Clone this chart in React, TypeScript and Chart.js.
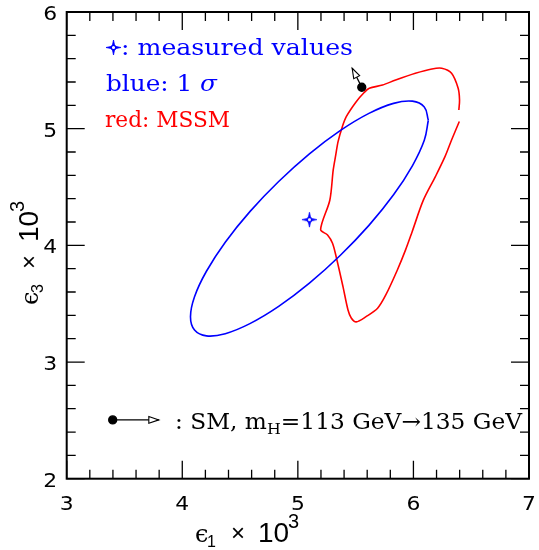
import React, { useEffect, useRef } from "react";
import { Chart, registerables } from "chart.js";

Chart.register(...registerables);

// ---- axes ----
const xTicks = [3, 4, 5, 6, 7];
const yTicks = [2, 3, 4, 5, 6];
const minorStep = 0.2;

// ---- blue 1 sigma ellipse ----
const ellipseX = [6.129, 6.094, 5.991, 5.828, 5.615, 5.366, 5.1, 4.834, 4.585, 4.372, 4.209, 4.106, 4.071, 4.106, 4.209, 4.372, 4.585, 4.834, 5.1, 5.366, 5.615, 5.828, 5.991, 6.094, 6.129];
const ellipseY = [5.072, 4.9, 4.682, 4.433, 4.171, 3.913, 3.676, 3.477, 3.329, 3.243, 3.224, 3.274, 3.388, 3.56, 3.778, 4.027, 4.289, 4.547, 4.784, 4.983, 5.131, 5.217, 5.236, 5.186, 5.072];

// ---- red MSSM contour ----
const mssmX = [6.397, 6.33, 6.273, 6.19, 6.085, 5.989, 5.932, 5.861, 5.761, 5.69, 5.59, 5.505, 5.462, 5.434, 5.391, 5.334, 5.3, 5.257, 5.197, 5.277, 5.306, 5.328, 5.348, 5.385, 5.419, 5.505, 5.576, 5.618, 5.733, 5.846, 6.017, 6.16, 6.245, 6.33, 6.387, 6.399, 6.393];
const mssmY = [5.062, 4.903, 4.76, 4.589, 4.385, 4.117, 3.961, 3.789, 3.575, 3.461, 3.389, 3.344, 3.378, 3.446, 3.644, 3.892, 4.018, 4.089, 4.136, 4.389, 4.646, 4.775, 4.889, 5.017, 5.103, 5.231, 5.312, 5.346, 5.374, 5.417, 5.475, 5.512, 5.518, 5.475, 5.346, 5.246, 5.16];

// ---- measured value ----
const measuredX = [5.1];
const measuredY = [4.22];

// ---- SM arrow (m_H 113 -> 135 GeV) and legend arrow ----
const smArrowX = [5.553, 5.47];
const smArrowY = [5.355, 5.518];
const legendArrowX = [3.398, 3.797];
const legendArrowY = [2.504, 2.504];

// ---- texts ----
const legendLine1 = ": measured values";
const legendLine2 = "blue: 1 ";
const legendSigma = "σ";
const legendLine3 = "red: MSSM";
const smText1 = ": SM, m";
const smTextSub = "H";
const smText2 = "=113 GeV→135 GeV";
const xTitleParts = ["ϵ", "1", "×", "10", "3"];
const yTitleParts = ["ϵ", "3", "×", "10", "3"];

const BLUE = "#0000ff";
const RED = "#ff0000";
const SERIF = '"DejaVu Serif"';

const pts = (xs: number[], ys: number[]) => xs.map((x, i) => ({ x, y: ys[i] }));

type Part = { t: string; font: string; dy?: number };

function drawFit(ctx: CanvasRenderingContext2D, parts: Part[], x: number, y: number, target: number) {
  let w = 0;
  for (const p of parts) {
    ctx.font = p.font;
    w += ctx.measureText(p.t).width;
  }
  const sx = target / w;
  ctx.save();
  ctx.translate(x, y);
  ctx.scale(sx, 1);
  let cx = 0;
  for (const p of parts) {
    ctx.font = p.font;
    ctx.fillText(p.t, cx, p.dy || 0);
    cx += ctx.measureText(p.t).width;
  }
  ctx.restore();
}

function makeStar(): HTMLCanvasElement {
  const c = document.createElement("canvas");
  c.width = 19;
  c.height = 19;
  const g = c.getContext("2d")!;
  const m = 9.5, R = 7.5, r = 1.8;
  g.fillStyle = BLUE;
  g.strokeStyle = BLUE;
  g.lineWidth = 0.8;
  g.beginPath();
  for (let i = 0; i < 8; i++) {
    const a = (i * Math.PI) / 4 - Math.PI / 2;
    const rad = i % 2 === 0 ? R : r;
    const px = m + rad * Math.cos(a), py = m + rad * Math.sin(a);
    if (i === 0) g.moveTo(px, py);
    else g.lineTo(px, py);
  }
  g.closePath();
  g.fill();
  g.stroke();
  g.beginPath();
  g.arc(m, m, 2.2, 0, Math.PI * 2);
  g.fillStyle = "#fff";
  g.fill();
  g.lineWidth = 1.3;
  g.stroke();
  return c;
}

function drawTitle(ctx: CanvasRenderingContext2D, parts: string[]) {
  ctx.fillStyle = "#000";
  ctx.textAlign = "left";
  ctx.textBaseline = "alphabetic";
  ctx.font = '24px "DejaVu Serif"';
  ctx.fillText(parts[0], 0, 0);
  ctx.font = '16px "Liberation Sans"';
  ctx.fillText(parts[1], 12, 5);
  ctx.font = '24px "Liberation Sans"';
  ctx.fillText(parts[2], 36, -1);
  ctx.font = '28px "Liberation Sans"';
  ctx.fillText(parts[3], 63, 0);
  ctx.font = '20px "Liberation Sans"';
  ctx.fillText(parts[4], 93, -14);
}

export default function App() {
  const ref = useRef<HTMLCanvasElement | null>(null);

  useEffect(() => {
    if (!ref.current) return;
    const star = makeStar();

    const framePlugin = {
      id: "framePlugin",
      afterDraw(chart: any) {
        const { ctx, chartArea: ca } = chart;
        const xs = chart.scales.x, ys = chart.scales.y;
        ctx.save();
        const head = (ax: number[], ay: number[]) => {
          const x0 = xs.getPixelForValue(ax[0]), y0 = ys.getPixelForValue(ay[0]);
          const x1 = xs.getPixelForValue(ax[1]), y1 = ys.getPixelForValue(ay[1]);
          const L = Math.hypot(x1 - x0, y1 - y0);
          const ux = (x1 - x0) / L, uy = (y1 - y0) / L;
          const bl = 10, hw = 3.3;
          const bx = x1 - ux * bl, by = y1 - uy * bl;
          ctx.beginPath();
          ctx.moveTo(x1, y1);
          ctx.lineTo(bx - uy * hw, by + ux * hw);
          ctx.lineTo(bx + uy * hw, by - ux * hw);
          ctx.closePath();
          ctx.fillStyle = "#fff";
          ctx.fill();
          ctx.strokeStyle = "#000";
          ctx.lineWidth = 1.1;
          ctx.stroke();
        };
        head(smArrowX, smArrowY);
        head(legendArrowX, legendArrowY);

        // frame
        ctx.strokeStyle = "#000";
        ctx.lineWidth = 2;
        ctx.strokeRect(ca.left, ca.top, ca.right - ca.left, ca.bottom - ca.top);

        // ticks on all four sides, pointing inward
        ctx.lineWidth = 1.3;
        ctx.beginPath();
        const nx = Math.round((xs.max - xs.min) / minorStep);
        for (let i = 0; i <= nx; i++) {
          const v = xs.min + i * minorStep;
          const major = Math.abs(v - Math.round(v)) < 1e-6;
          const len = major ? 18 : 9;
          const px = xs.getPixelForValue(v);
          ctx.moveTo(px, ca.bottom);
          ctx.lineTo(px, ca.bottom - len);
          ctx.moveTo(px, ca.top);
          ctx.lineTo(px, ca.top + len);
        }
        const ny = Math.round((ys.max - ys.min) / minorStep);
        for (let i = 0; i <= ny; i++) {
          const v = ys.min + i * minorStep;
          const major = Math.abs(v - Math.round(v)) < 1e-6;
          const len = major ? 18 : 9;
          const py = ys.getPixelForValue(v);
          ctx.moveTo(ca.left, py);
          ctx.lineTo(ca.left + len, py);
          ctx.moveTo(ca.right, py);
          ctx.lineTo(ca.right - len, py);
        }
        ctx.stroke();

        // tick labels
        ctx.fillStyle = "#000";
        ctx.font = '19px "DejaVu Sans"';
        ctx.textBaseline = "alphabetic";
        ctx.textAlign = "center";
        const sx = 1.15;
        xTicks.forEach((v) => {
          ctx.save();
          ctx.translate(xs.getPixelForValue(v), ca.bottom + 31.5);
          ctx.scale(sx, 1);
          ctx.fillText(String(v), 0, 0);
          ctx.restore();
        });
        ctx.textAlign = "right";
        yTicks.forEach((v) => {
          ctx.save();
          ctx.translate(ca.left - 9.5, ys.getPixelForValue(v) + 8);
          ctx.scale(sx, 1);
          ctx.fillText(String(v), 0, 0);
          ctx.restore();
        });

        // axis titles
        ctx.save();
        ctx.translate(195, 541.5);
        drawTitle(ctx, xTitleParts);
        ctx.restore();
        ctx.save();
        ctx.translate(38, 305);
        ctx.rotate(-Math.PI / 2);
        drawTitle(ctx, yTitleParts);
        ctx.restore();

        // in-plot legend texts
        ctx.textAlign = "left";
        ctx.textBaseline = "alphabetic";
        ctx.drawImage(star, 113.5 - 9.5, 47.5 - 9.5);
        const f = "22px " + SERIF;
        ctx.fillStyle = BLUE;
        drawFit(ctx, [{ t: legendLine1, font: f }], 121, 55, 232);
        drawFit(ctx, [{ t: legendLine2, font: f }, { t: legendSigma, font: "italic " + f }], 106, 91, 111);
        ctx.fillStyle = RED;
        drawFit(ctx, [{ t: legendLine3, font: f }], 105, 127, 125);
        ctx.fillStyle = "#000";
        drawFit(
          ctx,
          [
            { t: smText1, font: f },
            { t: smTextSub, font: "15px " + SERIF, dy: 5 },
            { t: smText2, font: f },
          ],
          175,
          429,
          347
        );
        ctx.restore();
      },
    };

    const chart = new Chart(ref.current, {
      type: "scatter",
      data: {
        datasets: [
          {
            label: "1 sigma",
            data: pts(ellipseX, ellipseY),
            showLine: true,
            borderColor: BLUE,
            borderWidth: 1.6,
            pointRadius: 0,
            tension: 0.4,
            fill: false,
          },
          {
            label: "MSSM",
            data: pts(mssmX, mssmY),
            showLine: true,
            borderColor: RED,
            borderWidth: 1.6,
            pointRadius: 0,
            tension: 0.3,
            fill: false,
          },
          {
            label: "measured",
            data: pts(measuredX, measuredY),
            showLine: false,
            pointStyle: star as any,
            pointRadius: 9,
          },
          {
            label: "SM",
            data: pts(smArrowX, smArrowY),
            showLine: true,
            borderColor: "#000",
            borderWidth: 1.3,
            pointRadius: [4, 0],
            pointBackgroundColor: "#000",
            pointBorderColor: "#000",
          },
          {
            label: "SM legend",
            data: pts(legendArrowX, legendArrowY),
            showLine: true,
            borderColor: "#000",
            borderWidth: 1.3,
            pointRadius: [4, 0],
            pointBackgroundColor: "#000",
            pointBorderColor: "#000",
          },
        ],
      },
      options: {
        responsive: false,
        animation: false,
        layout: { padding: { left: 66.7, right: 4, top: 12, bottom: 71.3 } },
        plugins: { legend: { display: false }, tooltip: { enabled: false } },
        scales: {
          x: {
            type: "linear",
            min: 3,
            max: 7,
            ticks: { display: false, stepSize: 1 },
            grid: { display: false, drawTicks: false },
            border: { display: false },
          },
          y: {
            type: "linear",
            min: 2,
            max: 6,
            ticks: { display: false, stepSize: 1 },
            grid: { display: false, drawTicks: false },
            border: { display: false },
          },
        },
      },
      plugins: [framePlugin],
    });
    return () => chart.destroy();
  }, []);

  return (
    <div style={{ position: "absolute", left: 0, top: 0, width: 539, height: 550, background: "#fff" }}>
      <canvas ref={ref} width={539} height={550} style={{ display: "block" }} />
    </div>
  );
}
